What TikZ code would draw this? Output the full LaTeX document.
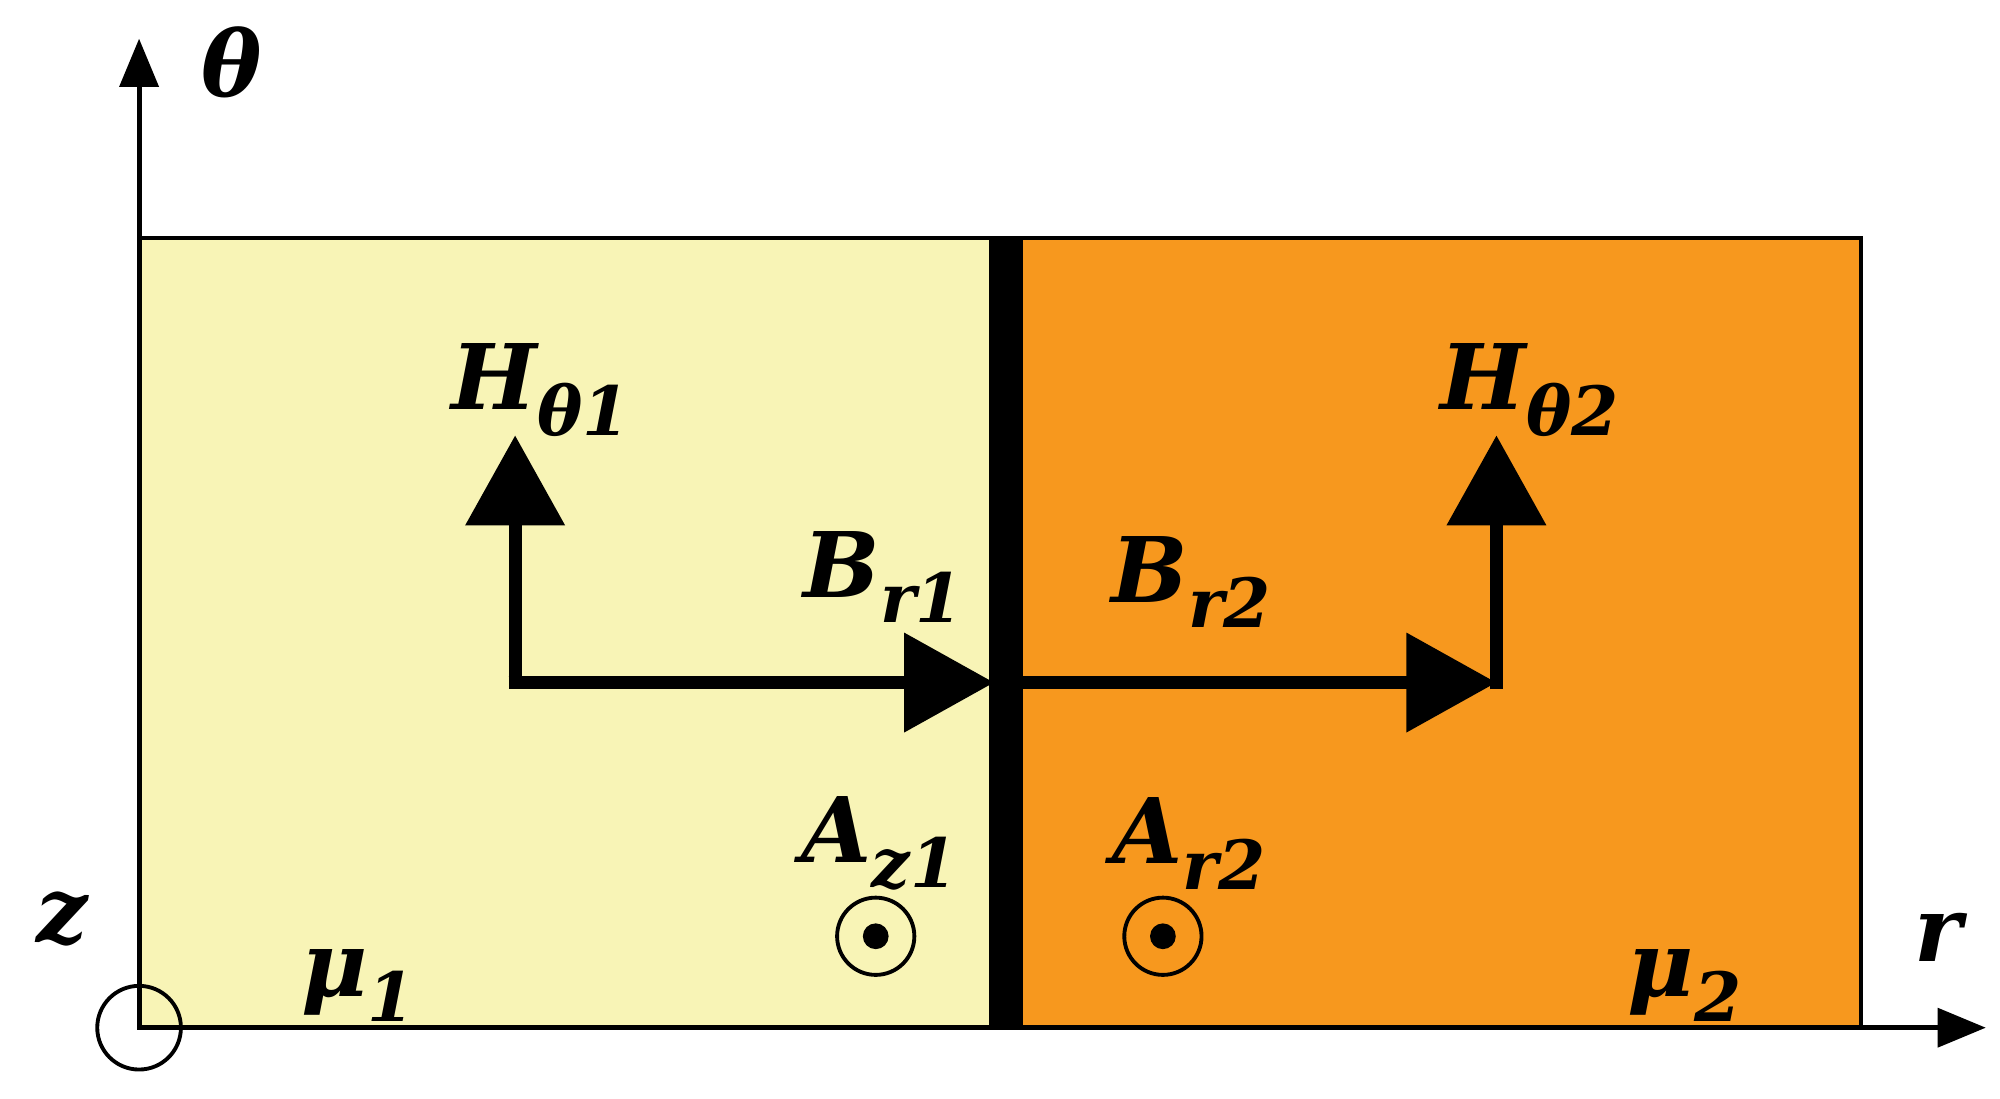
\documentclass[tikz,border=0pt]{standalone}
\usepackage{fontspec}
\newfontfamily\lf{DejaVu Serif}
\usetikzlibrary{arrows.meta}
\definecolor{lyel}{RGB}{248,244,182}
\definecolor{orng}{RGB}{247,152,30}
\newcommand{\lbl}[2]{{\bfseries\itshape #1}\raisebox{-0.28em}{\fontsize{30}{34}\selectfont\bfseries\itshape #2}}
\begin{document}
\begin{tikzpicture}[x=0.02cm,y=-0.02cm,
  lab/.style={font=\lf\fontsize{40}{46}\selectfont},
  vec/.style={line width=0.2cm,-{Triangle[length=1.4cm,width=1.5cm]}},
  ax/.style={line width=0.08cm,-{Triangle[length=0.75cm,width=0.6cm]}}]
\useasboundingbox (0,0) rectangle (1553,853);
\fill[lyel] (108,185) rectangle (780,798);
\fill[orng] (780,185) rectangle (1445,798);
\draw[line width=0.06cm] (108,185) rectangle (1445,798);
\fill (768,185) rectangle (794,798);
\coordinate (O) at (108,798);
\coordinate (T) at (108,30);
\coordinate (R) at (1542,798);
\draw[ax] (O) -- (T);
\draw[ax] (O) -- (R);
\node[draw,circle,line width=0.06cm,minimum size=1.3cm,inner sep=0] (oc) at (O) {};
\coordinate (a1) at (400,530);
\coordinate (a1t) at (400,338);
\coordinate (a1r) at (772,530);
\coordinate (a2) at (794,530);
\coordinate (a2r) at (1162,530);
\coordinate (a2t) at (1162,338);
\draw[vec] (a1) -- (a1t);
\draw[line width=0.2cm] (395,530) -- (405,530);
\draw[vec] (395,530) -- (a1r);
\draw[vec] (a2) -- (a2r);
\draw[line width=0.2cm] (1162,535) -- (1162,500);
\draw[vec] (1162,535) -- (a2t);
\foreach \n/\x in {d1/680,d2/903}{
  \node[draw,circle,line width=0.06cm,minimum size=1.2cm,inner sep=0] (\n) at (\x,727) {};
  \fill (\x,727) circle (0.2cm);
}
\node[lab] (th) at (180,58) {\lbl{θ}{}};
\node[lab] (h1) at (420,303) {\lbl{H}{θ1}};
\node[lab] (h2) at (1188,303) {\lbl{H}{θ2}};
\node[lab] (b1) at (686,448) {\lbl{B}{r1}};
\node[lab] (b2) at (925,452) {\lbl{B}{r2}};
\node[lab] (az) at (683,655) {\lbl{A}{z1}};
\node[lab] (ar) at (923,655) {\lbl{A}{r2}};
\node[lab] (m1) at (278,765) {\lbl{μ}{1}};
\node[lab] (m2) at (1308,765) {\lbl{μ}{2}};
\node[lab] (z) at (48,722) {\lbl{z}{}};
\node[lab] (r) at (1505,738) {\lbl{r}{}};
\end{tikzpicture}
\end{document}
